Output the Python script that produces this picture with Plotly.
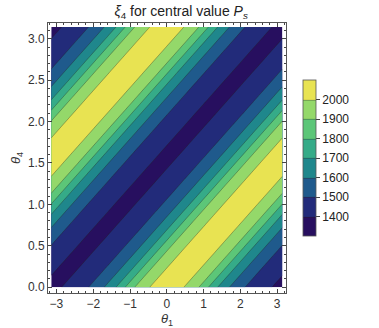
import math
import plotly.graph_objects as go

# xi_4 read along the band direction d = 2*theta4 - theta1, every 15 degrees from the maximum (0) to the minimum (180)
xi_profile = [2080, 2050, 1985, 1932, 1835, 1725, 1635, 1565, 1505, 1465, 1425, 1398, 1385]
levels_start, levels_end, levels_step = 1400, 2000, 100
band_colors = ["#270f5f", "#222b7a", "#1f5a8c", "#1f878c", "#35ab88", "#5cc678", "#94d86a", "#e8e352"]
x_ticks = [-3, -2, -1, 0, 1, 2, 3]
x_ticklabels = ["\u22123", "\u22122", "\u22121", "0", "1", "2", "3"]
y_ticks = [0.0, 0.5, 1.0, 1.5, 2.0, 2.5, 3.0]
cbar_ticks = [1400, 1500, 1600, 1700, 1800, 1900, 2000]

n = 24
xs = [-math.pi + k * 2 * math.pi / n for k in range(n + 1)]
ys = [j * math.pi / n for j in range(n + 1)]
z = []
for j in range(n + 1):
    row = []
    for k in range(n + 1):
        m = (j - k + 12) % 24
        row.append(xi_profile[min(m, 24 - m)])
    z.append(row)

zmin, zmax = levels_start - levels_step, levels_end + levels_step
nb = len(band_colors)
cs = []
for i, c in enumerate(band_colors):
    cs.append([i / nb, c])
    cs.append([(i + 1) / nb, c])

fig = go.Figure(go.Contour(
    x=xs, y=ys, z=z,
    zmin=zmin, zmax=zmax, zauto=False,
    colorscale=cs,
    contours=dict(start=levels_start, end=levels_end, size=levels_step, coloring="fill", showlines=True),
    line=dict(color="rgba(40,30,20,0.55)", width=0.6),
    colorbar=dict(
        x=1.0, xanchor="left", xpad=17, thickness=13, len=176, lenmode="pixels",
        y=0.5, yanchor="middle",
        tickvals=cbar_ticks, ticks="outside", ticklen=4, tickcolor="#444",
        tickfont=dict(family="Liberation Sans, Arial", size=12, color="#222"),
        outlinewidth=0.8, outlinecolor="#555",
    ),
))

axis_common = dict(
    showline=True, mirror="allticks", linecolor="#555", linewidth=1,
    ticks="inside", ticklen=4, tickcolor="#444", showgrid=False, zeroline=False,
    automargin=False,
    tickfont=dict(family="Liberation Sans, Arial", size=12, color="#333"),
)
fig.update_xaxes(
    range=[-3.23, 3.24], tickvals=x_ticks, ticktext=x_ticklabels,
    minor=dict(dtick=0.2, ticks="inside", ticklen=2, tickcolor="#444"),
    title=dict(text="<i>θ</i><sub>1</sub>", font=dict(family="Liberation Sans, Arial", size=13, color="#333"), standoff=4),
    **axis_common,
)
fig.update_yaxes(
    range=[-0.07, 3.19], tickvals=y_ticks, ticktext=["%.1f" % v for v in y_ticks],
    minor=dict(dtick=0.1, ticks="inside", ticklen=2, tickcolor="#444"),
    title=dict(text="<i>θ</i><sub>4</sub>", font=dict(family="Liberation Sans, Arial", size=13, color="#333"), standoff=4),
    **axis_common,
)
fig.update_layout(
    width=379, height=328,
    margin=dict(l=48, r=64, t=23, b=35),
    paper_bgcolor="white", plot_bgcolor="white",
    title=dict(text="<i>ξ</i><sub>4</sub> for central value <i>P</i><sub><i>s</i></sub>",
               x=0.478, xanchor="center", y=0.965, yanchor="middle", automargin=False,
               font=dict(family="Liberation Sans, Arial", size=14, color="#222")),
)
fig.write_html("out.html", config={"displayModeBar": False},
               post_script="document.body.style.margin='0';document.body.style.overflow='hidden';")
